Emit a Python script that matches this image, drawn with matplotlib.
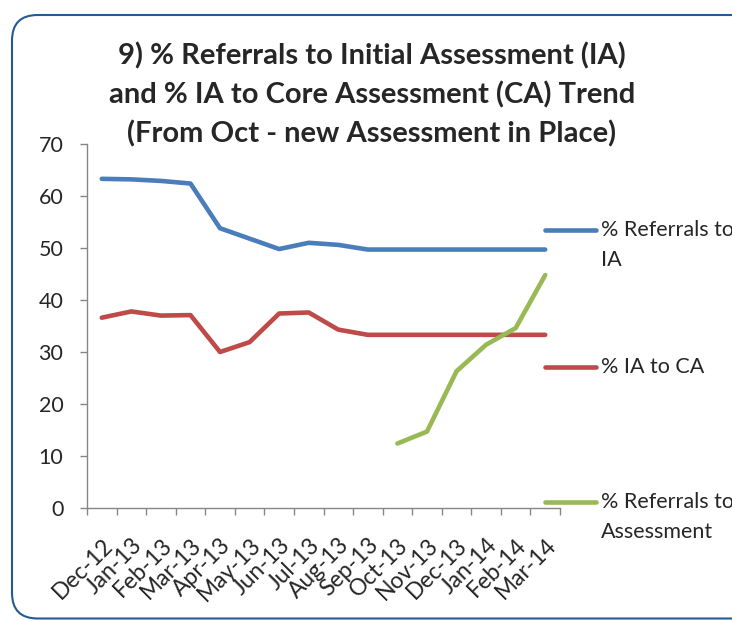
import numpy as np
import matplotlib
matplotlib.use("Agg")
import matplotlib.pyplot as plt
from matplotlib.patches import FancyBboxPatch
from matplotlib.lines import Line2D

# --- Data ---
months = ["Dec-12", "Jan-13", "Feb-13", "Mar-13", "Apr-13", "May-13", "Jun-13", "Jul-13",
          "Aug-13", "Sep-13", "Oct-13", "Nov-13", "Dec-13", "Jan-14", "Feb-14", "Mar-14"]
ref_to_ia = [63.3, 63.2, 62.9, 62.4, 53.8, 51.8, 49.8, 51.0,
             50.6, 49.7, 49.7, 49.7, 49.7, 49.7, 49.7, 49.7]
ia_to_ca = [36.6, 37.8, 37.0, 37.1, 30.0, 31.9, 37.4, 37.6,
            34.3, 33.3, 33.3, 33.3, 33.3, 33.3, 33.3, 33.3]
ref_to_assess = [np.nan] * 10 + [12.4, 14.7, 26.3, 31.4, 34.6, 44.8]

series_names = ["% Referrals to\nIA", "% IA to CA", "% Referrals to\nAssessment"]
colors = ["#4A7EBB", "#BE4B48", "#98B954"]

plt.rcParams['font.family'] = ['Lato', 'DejaVu Sans']

W, H = 732, 621
fig = plt.figure(figsize=(W / 100, H / 100), dpi=100)

# rounded frame (behind everything), runs off the right edge like the original
frame = FancyBboxPatch((12 / W, 2.5 / H), 748 / W, 603.5 / H,
                       boxstyle="round,pad=0,rounding_size=0.035",
                       transform=fig.transFigure, facecolor="white",
                       edgecolor="#245A92", linewidth=1.5, mutation_aspect=W / H,
                       zorder=-10)
fig.add_artist(frame)

ax = fig.add_axes([87 / W, (H - 508) / H, (560 - 87) / W, (508 - 144) / H])
ax.set_facecolor("none")

x = np.arange(len(months))
for vals, c in zip([ref_to_ia, ia_to_ca, ref_to_assess], colors):
    ax.plot(x, vals, color=c, lw=3.3, solid_capstyle="round", solid_joinstyle="round")

ax.set_xlim(-0.5, len(months) - 0.5)
ax.set_ylim(0, 70)
ax.set_yticks(range(0, 71, 10))
ax.tick_params(axis="y", length=5, width=1, color="#868686", pad=12, labelsize=15.5,
               labelcolor="#262626")

ax.set_xticks(x)
ax.set_xticklabels(months, rotation=45, ha="right", va="top", rotation_mode="anchor")
ax.set_xticks(np.arange(len(months) + 1) - 0.5, minor=True)
ax.tick_params(axis="x", which="major", length=0, pad=19, labelsize=16.5,
               labelcolor="#262626")
ax.tick_params(axis="x", which="minor", length=5, width=1, color="#868686")

for s in ["top", "right"]:
    ax.spines[s].set_visible(False)
for s in ["left", "bottom"]:
    ax.spines[s].set_color("#868686")
    ax.spines[s].set_linewidth(1)

# title
fig.text(372 / W, 1 - 95 / H,
         "9) % Referrals to Initial Assessment (IA)\nand % IA to Core Assessment (CA) Trend\n(From Oct - new Assessment in Place)",
         ha="center", va="center", fontsize=21, fontweight="bold", color="#262626",
         linespacing=1.55)

# legend drawn at the right
leg_y = [230, 367, 502]
for name, c, yy in zip(series_names, colors, leg_y):
    fig.add_artist(Line2D([545 / W, 596 / W], [1 - yy / H, 1 - yy / H], color=c, lw=3.3,
                          solid_capstyle="round", transform=fig.transFigure))
    fig.text(601 / W, 1 - (yy - 10) / H, name, ha="left", va="top", fontsize=15.5,
             color="#262626", linespacing=1.6)

fig.savefig("out.png", dpi=100)
